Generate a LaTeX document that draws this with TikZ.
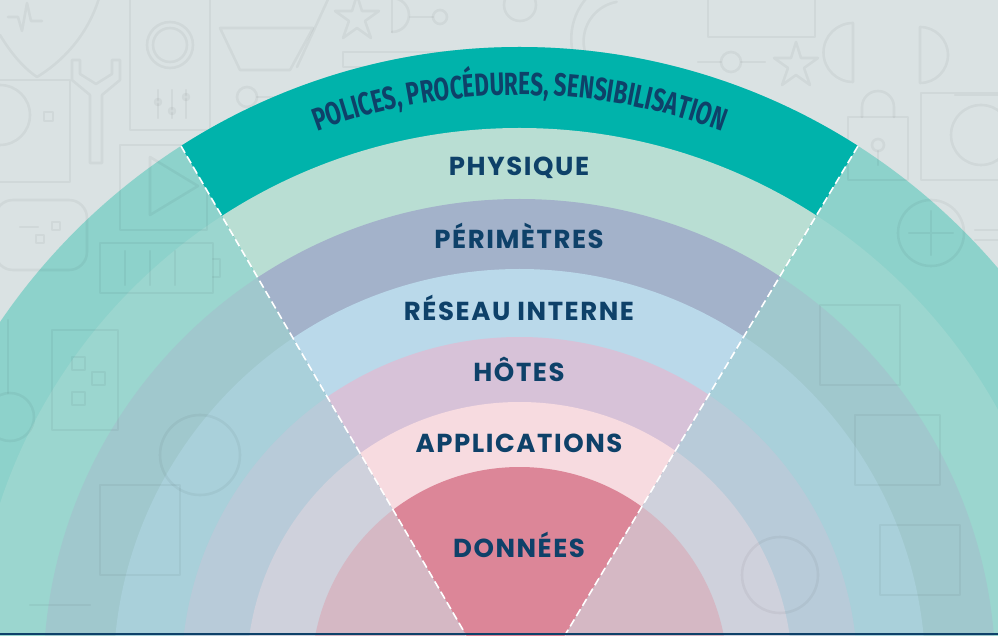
\documentclass[tikz,border=0pt]{standalone}
\usepackage{fontspec}
\setmainfont{Poppins}
\newfontfamily\labelfont[LetterSpace=6]{Poppins}
\newfontfamily\condfont[FakeStretch=0.70]{Fira Sans}
\usetikzlibrary{calc,decorations.text}

% palette
\definecolor{bgc}{HTML}{DAE2E3}
\definecolor{navy}{HTML}{0E4169}
\definecolor{ringA}{HTML}{00B3AB}
\definecolor{ringB}{HTML}{B9DED3}
\definecolor{ringC}{HTML}{A3B2CA}
\definecolor{ringD}{HTML}{BAD9EA}
\definecolor{ringE}{HTML}{D7C2D8}
\definecolor{ringF}{HTML}{F7DBE0}
\definecolor{ringG}{HTML}{DC8698}
\definecolor{paleA}{HTML}{8DD2CB}
\definecolor{paleB}{HTML}{9BD6CF}
\definecolor{paleC}{HTML}{A0C8CD}
\definecolor{paleD}{HTML}{A9D0DA}
\definecolor{paleE}{HTML}{B8CBD9}
\definecolor{paleF}{HTML}{CFD1DC}
\definecolor{paleG}{HTML}{D5B8C4}

\tikzset{
  lbl/.style={font=\labelfont\bfseries\fontsize{26}{26}\selectfont, text=navy, inner sep=0pt, anchor=base},
  wedgeline/.style={draw=white, line width=1.6pt, dash pattern=on 8pt off 4pt},
  icon/.style={draw=black, draw opacity=0.045, line width=2.6pt, line join=round, line cap=round},
}

\begin{document}
\begin{tikzpicture}[x=1pt,y=1pt]
\useasboundingbox (0,0) rectangle (998,635);
\clip (0,0) rectangle (998,635);
\fill[bgc] (0,0) rectangle (998,635);

\coordinate (C) at (519.5,-40);

% pale rings around the whole centre
\fill[paleA] (C) circle (628);
\fill[paleB] (C) circle (547);
\fill[paleC] (C) circle (476);
\fill[paleD] (C) circle (406);
\fill[paleE] (C) circle (338);
\fill[paleF] (C) circle (273);
\fill[paleG] (C) circle (208);

% faint line icons in the backdrop
\begin{scope}[icon]
  % shield with pulse
  \draw (0,600) .. controls (12,580) and (25,566) .. (37,558) .. controls (60,572) and (88,598) .. (100,640);
  \draw (8,618) -- (18,618) -- (22,604) -- (27,632) -- (31,614) -- (42,614);
  % speaker box with sliders
  \draw (130,505) rectangle (210,640);
  \draw (170,590) circle (23);
  \draw (170,590) circle (17);
  \draw (158,517) -- (158,545) (172,517) -- (172,545) (186,517) -- (186,545);
  \draw (158,533) circle (3) (172,524) circle (3) (186,538) circle (3);
  % wrench
  \draw (72,575) -- (72,555) -- (90,540) -- (90,472) -- (102,472) -- (102,540) -- (120,555) -- (120,575)
        -- (112,575) -- (112,561) -- (96,551) -- (80,561) -- (80,575) -- cycle;
  % bowl
  \draw (220,607) -- (313,607) -- (290,565) -- (240,565) -- cycle;
  \draw (297,568) -- (330,640);
  \draw (247,538) circle (10);
  \draw (257,538) -- (280,538);
  % star
  \draw (357,640) -- (362,624) -- (379,624) -- (365,614) -- (371,597) -- (357,607) -- (343,597)
        -- (349,614) -- (335,624) -- (352,624) -- cycle;
  % half disc and node
  \draw (392,603) -- (392,640);
  \draw (392,603) arc[start angle=-90, end angle=90, radius=17];
  \draw (440,618) circle (7);
  \draw (410,618) -- (433,618);
  \draw (343,568) rectangle (500,583);
  % camera
  \draw (-5,453) rectangle (70,555);
  \draw (44,514) rectangle (53,523);
  \draw (0,520) circle (30);
  % screen with play symbol
  \draw (120,405) rectangle (207,490);
  \draw (150,478) -- (150,420) -- (198,449) -- cycle;
  % game pad
  \draw[rounded corners=18pt] (-5,365) rectangle (87,435);
  \draw (36,392) rectangle (44,400) (52,405) rectangle (60,413) (20,408) -- (38,408);
  % battery
  \draw (100,342) rectangle (213,392);
  \draw (125,350) -- (125,384) (150,350) -- (150,384) (175,350) -- (175,384);
  \draw (213,358) -- (220,358) -- (220,376) -- (213,376);
  % thermometer and watch
  \draw (8,315) -- (8,242);
  \draw (10,218) circle (24);
  \draw (52,205) rectangle (118,305);
  \draw (72,230) rectangle (85,243) (92,250) rectangle (105,263) (72,265) rectangle (85,278);
  % right side
  \draw (708,598) rectangle (815,640);
  \draw (731,573) circle (10);
  \draw (698,573) -- (721,573) (741,573) -- (765,573);
  \draw (796,593) -- (801,577) -- (818,577) -- (804,567) -- (810,550) -- (796,560) -- (782,550)
        -- (788,567) -- (774,577) -- (791,577) -- cycle;
  \draw (853,553) -- (853,612) arc[start angle=90, end angle=270, radius=29.5];
  \draw (920,552) -- (920,608) arc[start angle=90, end angle=-90, radius=28];
  % padlock
  \draw (848,455) rectangle (908,518);
  \draw (862,518) -- (862,528) arc[start angle=180, end angle=0, radius=16] -- (894,518);
  \draw (878,490) circle (6);
  \draw (878,484) -- (878,470);
  % frame with dial
  \draw (921,455) rectangle (1005,542);
  \draw (981,500) circle (30);
  \draw (955,540) -- (1000,540);
  % dial with cross
  \draw (931,402) circle (33);
  \draw (931,380) -- (931,424) (909,402) -- (953,402);
  \draw (975,405) -- (998,405) (975,395) -- (998,395);
  % arcs near the top
  \draw (586,580) arc[start angle=200, end angle=100, radius=40];
  \draw (575,575) arc[start angle=200, end angle=95, radius=62];
  \draw (520,630) circle (16);
  % lower right blocks
  \draw (820,250) rectangle (900,330);
  \draw (855,150) rectangle (940,220);
  \draw (780,60) circle (38);
  \draw (880,40) rectangle (960,110);
  % lower left blocks
  \draw (100,60) rectangle (180,150);
  \draw (200,180) circle (40);
  \draw (30,30) -- (90,30);
\end{scope}

% bright wedge
\begin{scope}
  \clip (93,640) -- (948.5,640) -- (529,-60) -- (501,-60) -- cycle;
  \fill[ringA] (C) circle (628);
  \fill[ringB] (C) circle (547);
  \fill[ringC] (C) circle (476);
  \fill[ringD] (C) circle (406);
  \fill[ringE] (C) circle (338);
  \fill[ringF] (C) circle (273);
  \fill[ringG] (C) circle (208);
\end{scope}

% wedge borders
\coordinate (LT) at (181,489);
\coordinate (LB) at (466,0);
\coordinate (RT) at (858,489);
\coordinate (RB) at (565,0);
\draw[wedgeline] (LT) -- (LB);
\draw[wedgeline] (RT) -- (RB);

% curved title in the outer band
\path[decorate, decoration={text along path, text align=center, text color=navy,
  text={|\condfont\bfseries\fontsize{32}{32}\selectfont|POLICES, PROCÉDURES, SENSIBILISATION}}]
  ($(C)+(122:580)$) arc[start angle=122, end angle=58, radius=580];

% layer labels
\node[lbl] (physique) at (519,459) {PHYSIQUE};
\node[lbl] (perim) at (519,386) {PÉRIMÈTRES};
\node[lbl] (reseau) at (519,314) {RÉSEAU INTERNE};
\node[lbl] (hotes) at (519,253) {HÔTES};
\node[lbl] (apps) at (519,183) {APPLICATIONS};
\node[lbl] (donnees) at (519,78) {DONNÉES};

% bottom rule
\fill[navy] (0,0) rectangle (998,2);
\end{tikzpicture}
\end{document}
